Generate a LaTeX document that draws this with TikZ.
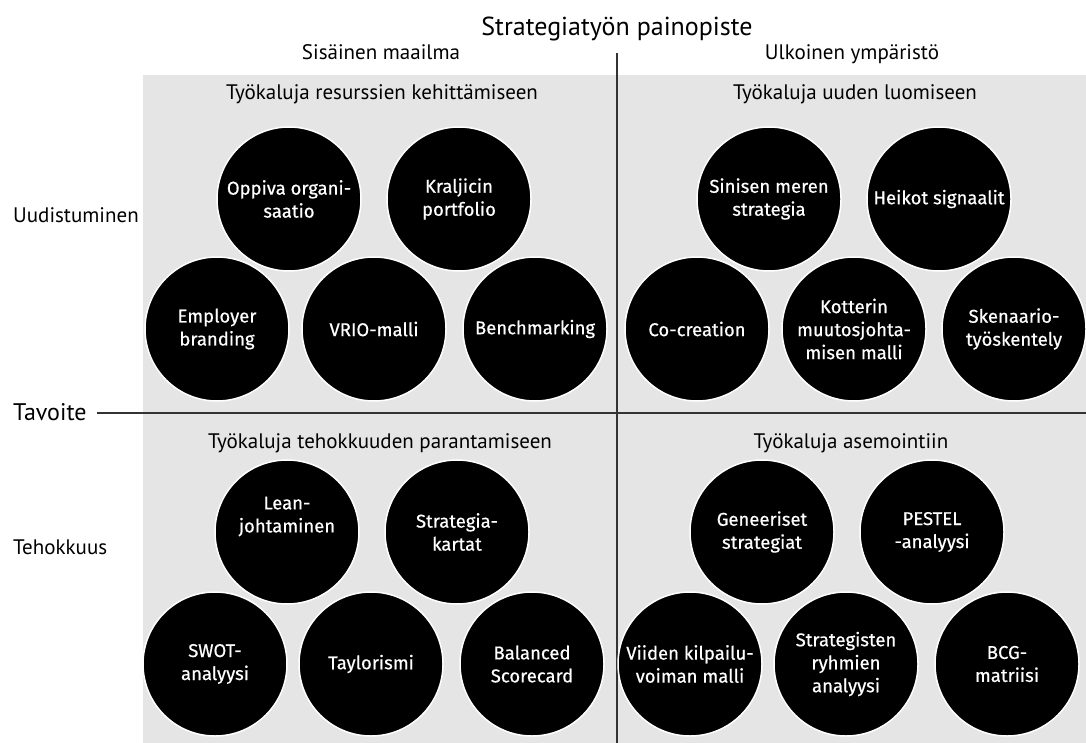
\documentclass[tikz,border=0pt]{standalone}
\usepackage{fontspec}
\setmainfont{PT Sans}
\newfontfamily\circfont{Fira Sans}[FakeBold=0.5]
\definecolor{panelgray}{HTML}{E5E5E5}
\definecolor{axisgray}{HTML}{333333}
\begin{document}
\begin{tikzpicture}[x=1pt,y=-1pt,
  tool/.style={circle, fill=black, draw=white, line width=1.5pt, minimum size=144pt, inner sep=0pt,
    text=white, align=center, font=\circfont\fontsize{18.5}{23}\selectfont},
  heading/.style={anchor=base, font=\fontsize{21}{25}\selectfont, text=black, inner sep=0pt},
  sidelabel/.style={anchor=base west, font=\fontsize{21}{25}\selectfont, inner sep=0pt},
  axis/.style={draw=axisgray, line width=2pt}]
\useasboundingbox (0,0) rectangle (1086,743);
\fill[panelgray] (143,75) rectangle (1086,743);
% titles
\node[heading, font=\fontsize{26}{30}\selectfont] (title) at (617,36) {Strategiatyön painopiste};
\node[heading] (inner) at (381,60) {Sisäinen maailma};
\node[heading] (outer) at (852,60) {Ulkoinen ympäristö};
\node[heading] (q1) at (382,100) {Työkaluja resurssien kehittämiseen};
\node[heading] (q2) at (855,100) {Työkaluja uuden luomiseen};
\node[heading] (q3) at (380,448) {Työkaluja tehokkuuden parantamiseen};
\node[heading] (q4) at (851,448) {Työkaluja asemointiin};
\node[sidelabel] (uud) at (13,223) {Uudistuminen};
\node[sidelabel] (teh) at (13,554) {Tehokkuus};
\node[sidelabel, font=\fontsize{24}{28}\selectfont] (tav) at (13,420) {Tavoite};
% axes
\coordinate (vtop) at (617,53);
\coordinate (vbot) at (617,743);
\coordinate (hright) at (1086,413);
\draw[axis] (vtop) -- (vbot);
\draw[axis] (tav.east |- 0,413) ++(10,0) coordinate (hleft) -- (hright);
% quadrant 1
\node[tool] (oppiva) at (289,199) {Oppiva organi-\\saatio};
\node[tool] (kraljic) at (459,199) {Kraljicin\\portfolio};
\node[tool] (employer) at (217,329) {Employer\\branding};
\node[tool] (vrio) at (374,329) {VRIO-malli};
\node[tool] (bench) at (535,329) {Benchmarking};
% quadrant 2
\node[tool] (sininen) at (769,199) {Sinisen meren\\strategia};
\node[tool] (heikot) at (939,199) {Heikot signaalit};
\node[tool] (cocre) at (697,329) {Co-creation};
\node[tool] (kotter) at (854,329) {Kotterin\\muutosjohta-\\misen malli};
\node[tool] (skenaario) at (1014,329) {Skenaario-\\työskentely};
% quadrant 3
\node[tool] (lean) at (287,532) {Lean-\\johtaminen\\[12pt]};
\node[tool] (stratk) at (457,532) {Strategia-\\kartat};
\node[tool] (swot) at (215,664) {SWOT-\\analyysi};
\node[tool] (taylor) at (371,664) {Taylorismi};
\node[tool] (bsc) at (532,664) {Balanced\\Scorecard};
% quadrant 4
\node[tool] (gen) at (762,532) {Geneeriset\\strategiat};
\node[tool] (pestel) at (932,532) {PESTEL\\-analyysi};
\node[tool] (viiden) at (690,664) {Viiden kilpailu-\\voiman malli};
\node[tool] (strgr) at (846,664) {Strategisten\\ryhmien\\analyysi};
\node[tool] (bcg) at (1007,664) {BCG-\\matriisi};
\end{tikzpicture}
\end{document}
